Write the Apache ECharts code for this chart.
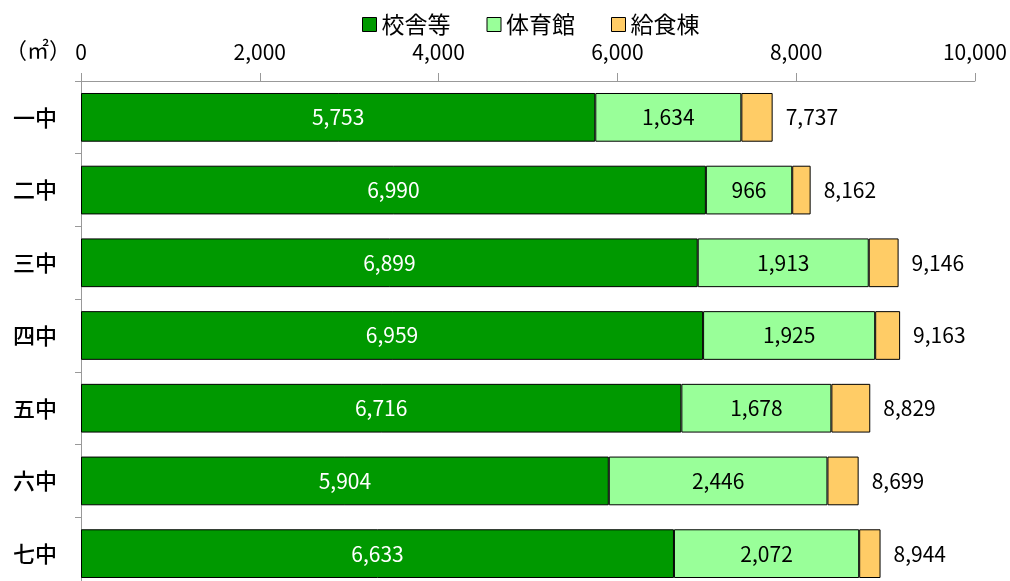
<!DOCTYPE html>
<html lang="ja">
<head>
<meta charset="UTF-8">
<title>学校施設面積</title>
<script src="https://cdn.jsdelivr.net/npm/echarts@6/dist/echarts.min.js"></script>
<style>
    html,body{margin:0;padding:0;background:#fff;overflow:hidden;}
    #main{width:1010px;height:590px;}
</style>
</head>
<body>
<div id="main"></div>
<script>
// 学校ごとの面積（㎡）
var schools = ['一中', '二中', '三中', '四中', '五中', '六中', '七中'];
var kousha = [5753, 6990, 6899, 6959, 6716, 5904, 6633];
var taiikukan = [1634, 966, 1913, 1925, 1678, 2446, 2072];
var kyushoku = [350, 206, 334, 279, 435, 349, 239];
var totals = [7737, 8162, 9146, 9163, 8829, 8699, 8944];
var xTicks = [0, 2000, 4000, 6000, 8000, 10000];

var font = '"Noto Sans CJK JP", "Noto Sans", sans-serif';
function fmt(v) { return v.toLocaleString('en-US'); }

var chart = echarts.init(document.getElementById('main'));
var option = {
    animation: false,
    textStyle: { fontFamily: font },
    title: {
        text: '（㎡）',
        left: 0,
        top: 34,
        textStyle: { fontSize: 22, fontWeight: 'normal', color: '#000', fontFamily: font }
    },
    legend: {
        top: 8,
        left: 357,
        icon: 'rect',
        itemWidth: 14,
        itemHeight: 14,
        itemGap: 36,
        textStyle: { fontSize: 23, color: '#000', fontFamily: font },
        itemStyle: { borderColor: '#000', borderWidth: 1 },
        data: ['校舎等', '体育館', '給食棟']
    },
    grid: { left: 81, right: 32, top: 81, bottom: 0, containLabel: false },
    xAxis: {
        type: 'value',
        position: 'top',
        min: xTicks[0],
        max: xTicks[xTicks.length - 1],
        interval: 2000,
        axisLine: { show: true, lineStyle: { color: '#999' } },
        axisTick: { show: true, length: 8, lineStyle: { color: '#999' } },
        splitLine: { show: false },
        axisLabel: { fontSize: 21, color: '#000', margin: 18, formatter: fmt }
    },
    yAxis: {
        type: 'category',
        inverse: true,
        data: schools,
        axisLine: { lineStyle: { color: '#999' } },
        axisTick: { show: true, length: 6, lineStyle: { color: '#999' } },
        axisLabel: { fontSize: 22, color: '#000', fontWeight: 500, margin: 24 }
    },
    series: [{
        name: '校舎等',
        type: 'bar',
        stack: 'a',
        barWidth: '67%',
        data: kousha,
        itemStyle: { color: '#009900', borderColor: '#000', borderWidth: 1 },
        label: { show: true, position: 'inside', color: '#fff', fontSize: 21,
            formatter: function (p) { return fmt(p.value); } }
    }, {
        name: '体育館',
        type: 'bar',
        stack: 'a',
        data: taiikukan,
        itemStyle: { color: '#99FF99', borderColor: '#000', borderWidth: 1 },
        label: { show: true, position: 'inside', color: '#000', fontSize: 21,
            formatter: function (p) { return fmt(p.value); } }
    }, {
        name: '給食棟',
        type: 'bar',
        stack: 'a',
        data: kyushoku,
        itemStyle: { color: '#FFCC66', borderColor: '#000', borderWidth: 1 },
        label: { show: true, position: 'right', distance: 13, color: '#000', fontSize: 21,
            formatter: function (p) { return fmt(totals[p.dataIndex]); } }
    }]
};
chart.setOption(option);
</script>
</body>
</html>
